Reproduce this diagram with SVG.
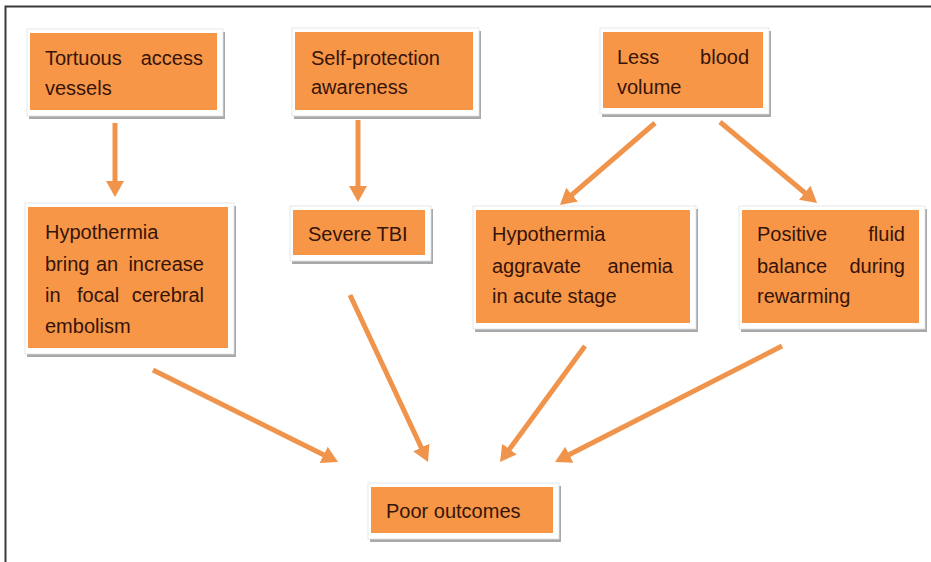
<svg xmlns="http://www.w3.org/2000/svg" width="931" height="562" viewBox="0 0 931 562">
<style>
.frame{fill:#fff;stroke:#3a3a3a;stroke-width:2}
.sh{fill:#a9a9a9}
.wb{fill:#fff;stroke:#dde3ea;stroke-width:0.8}
.ob{fill:#F79646}
.t{font-family:"Liberation Sans",Arial,sans-serif;font-size:20px;fill:#36140a}
.e{text-anchor:end}
.c{stroke:#F0944C;stroke-width:5;fill:none}
</style>
<defs>
<marker id="ah" markerUnits="userSpaceOnUse" markerWidth="18" markerHeight="20" refX="2" refY="9" orient="auto" viewBox="0 0 18 18">
<path d="M0,0 L16,9 L0,18 z" fill="#F0944C"/>
</marker>
</defs>
<rect class="frame" x="5.5" y="6.5" width="940" height="570"/>

<g id="connectors">
<line class="c" x1="115" y1="123" x2="115" y2="183" marker-end="url(#ah)"/>
<line class="c" x1="358" y1="120" x2="358" y2="188" marker-end="url(#ah)"/>
<line class="c" x1="655" y1="123" x2="570.6" y2="195.9" marker-end="url(#ah)"/>
<line class="c" x1="720" y1="122" x2="806.3" y2="194" marker-end="url(#ah)"/>
<line class="c" x1="153" y1="370" x2="325.5" y2="455.8" marker-end="url(#ah)"/>
<line class="c" x1="350" y1="295" x2="422.1" y2="449.3" marker-end="url(#ah)"/>
<line class="c" x1="585" y1="346" x2="508.3" y2="450.7" marker-end="url(#ah)"/>
<line class="c" x1="782" y1="346" x2="567.5" y2="455.6" marker-end="url(#ah)"/>
</g>

<g id="n1">
<rect class="sh" x="29" y="32" width="196" height="87"/>
<rect class="wb" x="27" y="29" width="196" height="87"/>
<rect class="ob" x="30" y="33" width="187" height="77"/>
<text class="t" x="45" y="65">Tortuous</text><text class="t e" x="203" y="65">access</text>
<text class="t" x="45" y="95">vessels</text>
</g>

<g id="n2">
<rect class="sh" x="294" y="31" width="187" height="88"/>
<rect class="wb" x="292" y="28" width="187" height="88"/>
<rect class="ob" x="295" y="32" width="178" height="78"/>
<text class="t" x="311" y="65">Self-protection</text>
<text class="t" x="311" y="94">awareness</text>
</g>

<g id="n3">
<rect class="sh" x="602" y="31" width="169" height="86"/>
<rect class="wb" x="600" y="28" width="169" height="86"/>
<rect class="ob" x="603" y="32" width="160" height="76"/>
<text class="t" x="617" y="64">Less</text><text class="t e" x="749" y="64">blood</text>
<text class="t" x="617" y="94">volume</text>
</g>

<g id="n4">
<rect class="sh" x="27" y="206" width="209" height="151"/>
<rect class="wb" x="25" y="203" width="209" height="151"/>
<rect class="ob" x="28" y="207" width="200" height="141"/>
<text class="t" x="45" y="239">Hypothermia</text>
<text class="t" x="45" y="271">bring</text><text class="t" x="96" y="271">an</text><text class="t e" x="204" y="271">increase</text>
<text class="t" x="45" y="302">in</text><text class="t" x="77" y="302">focal</text><text class="t e" x="204" y="302">cerebral</text>
<text class="t" x="45" y="333">embolism</text>
</g>

<g id="n5">
<rect class="sh" x="292" y="209" width="141" height="55"/>
<rect class="wb" x="290" y="206" width="141" height="55"/>
<rect class="ob" x="293" y="210" width="132" height="45"/>
<text class="t" x="308" y="241">Severe TBI</text>
</g>

<g id="n6">
<rect class="sh" x="475" y="209" width="223" height="123"/>
<rect class="wb" x="473" y="206" width="223" height="123"/>
<rect class="ob" x="476" y="210" width="214" height="113"/>
<text class="t" x="492" y="241">Hypothermia</text>
<text class="t" x="492" y="273">aggravate</text><text class="t e" x="673" y="273">anemia</text>
<text class="t" x="492" y="303">in acute stage</text>
</g>

<g id="n7">
<rect class="sh" x="741" y="209" width="186" height="123"/>
<rect class="wb" x="739" y="206" width="186" height="123"/>
<rect class="ob" x="742" y="210" width="177" height="113"/>
<text class="t" x="757" y="241">Positive</text><text class="t e" x="905" y="241">fluid</text>
<text class="t" x="757" y="273">balance</text><text class="t e" x="905" y="273">during</text>
<text class="t" x="757" y="303">rewarming</text>
</g>

<g id="n8">
<rect class="sh" x="370" y="486" width="191" height="56"/>
<rect class="wb" x="368" y="483" width="191" height="56"/>
<rect class="ob" x="371" y="487" width="182" height="46"/>
<text class="t" x="386" y="518">Poor outcomes</text>
</g>
</svg>
